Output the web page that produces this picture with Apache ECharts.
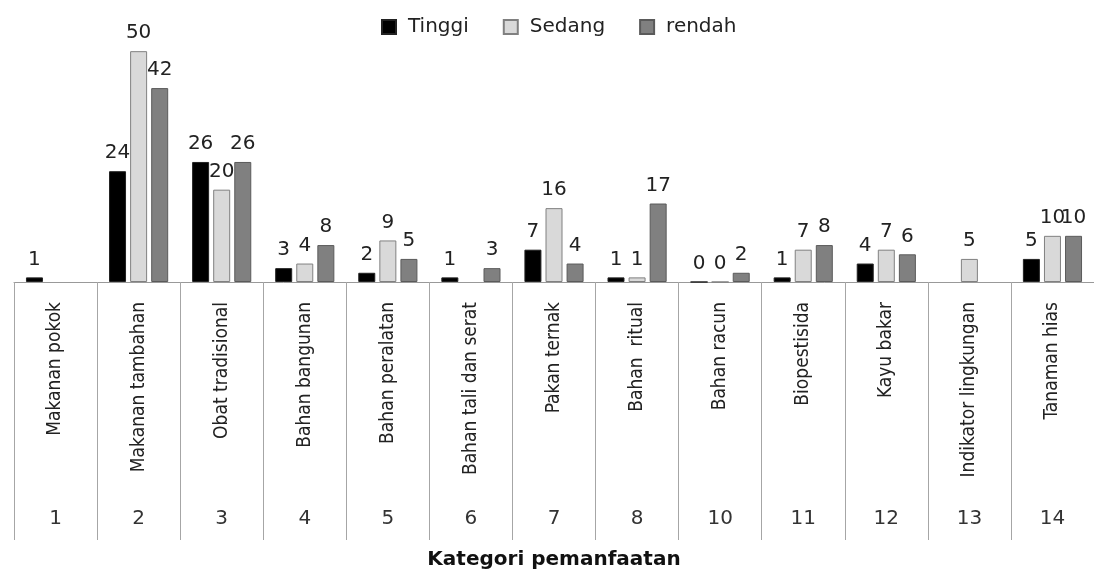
<!DOCTYPE html>
<html>
<head>
<meta charset="utf-8">
<title>Kategori pemanfaatan</title>
<script src="https://cdn.jsdelivr.net/npm/echarts@6/dist/echarts.min.js"></script>
<style>
  html, body { margin: 0; padding: 0; background: #ffffff; }
  #chart { width: 1094px; height: 571px; }
</style>
</head>
<body>
<div id="chart"></div>
<script>
// kategori dan nomor kategori
const categoryNames = [
  'Makanan pokok', 'Makanan tambahan', 'Obat tradisional', 'Bahan bangunan',
  'Bahan peralatan', 'Bahan tali dan serat', 'Pakan ternak', 'Bahan  ritual',
  'Bahan racun', 'Biopestisida', 'Kayu bakar', 'Indikator lingkungan', 'Tanaman hias'
];
const categoryCodes = ['1', '2', '3', '4', '5', '6', '7', '8', '10', '11', '12', '13', '14'];

// nilai tiap seri (null = tidak ada batang)
const tinggi = [1, 24, 26, 3, 2, 1, 7, 1, 0, 1, 4, null, 5];
const sedang = [null, 50, 20, 4, 9, null, 16, 1, 0, 7, 7, 5, 10];
const rendah = [null, 42, 26, 8, 5, 3, 4, 17, 2, 8, 6, null, 10];

const chart = echarts.init(document.getElementById('chart'));

const numFont = 'DejaVu Sans';
const nameFont = "'Liberation Sans Narrow', 'DejaVu Sans Condensed', sans-serif";

// label angka di atas batang
const valueLabel = {
  show: true,
  position: 'top',
  distance: 8,
  fontFamily: numFont,
  fontSize: 20,
  color: '#222'
};

const makeSeries = (name, data, fill, border) => ({
  name: name,
  type: 'bar',
  data: data,
  barWidth: 17,
  barGap: '24%',
  itemStyle: { color: fill, borderColor: border, borderWidth: 1 },
  label: valueLabel
});

const option = {
  backgroundColor: '#ffffff',
  animation: false,
  legend: {
    left: 376,
    top: 12,
    itemWidth: 14,
    itemHeight: 14,
    itemGap: 34,
    icon: 'rect',
    textStyle: {
      fontFamily: numFont,
      fontSize: 20,
      color: '#222',
      padding: [0, 0, 0, 7]
    },
    data: ['Tinggi', 'Sedang', 'rendah']
  },
  grid: { left: 14, right: -6, top: 5, bottom: 285 },
  xAxis: [
    {
      type: 'category',
      data: categoryNames,
      position: 'bottom',
      axisLine: { show: true, lineStyle: { color: '#999999', width: 1 } },
      axisTick: { show: true, interval: 0, length: 258, lineStyle: { color: '#a6a6a6' } },
      axisLabel: {
        interval: 0,
        rotate: 90,
        margin: 20,
        fontFamily: nameFont,
        fontSize: 19,
        color: '#222'
      },
      splitLine: { show: false }
    },
    {
      type: 'category',
      data: categoryCodes,
      position: 'bottom',
      axisLine: { show: false },
      axisTick: { show: false },
      axisLabel: {
        interval: 0,
        margin: 227,
        fontFamily: numFont,
        fontSize: 20,
        color: '#333'
      },
      name: 'Kategori pemanfaatan',
      nameLocation: 'middle',
      nameGap: 268,
      nameTextStyle: {
        fontFamily: numFont,
        fontSize: 20,
        fontWeight: 'bold',
        color: '#111'
      }
    }
  ],
  yAxis: {
    type: 'value',
    min: 0,
    max: 60,
    show: false,
    splitLine: { show: false }
  },
  series: [
    makeSeries('Tinggi', tinggi, '#000000', '#222222'),
    makeSeries('Sedang', sedang, '#d9d9d9', '#808080'),
    makeSeries('rendah', rendah, '#808080', '#5a5a5a')
  ]
};

chart.setOption(option);
</script>
</body>
</html>
